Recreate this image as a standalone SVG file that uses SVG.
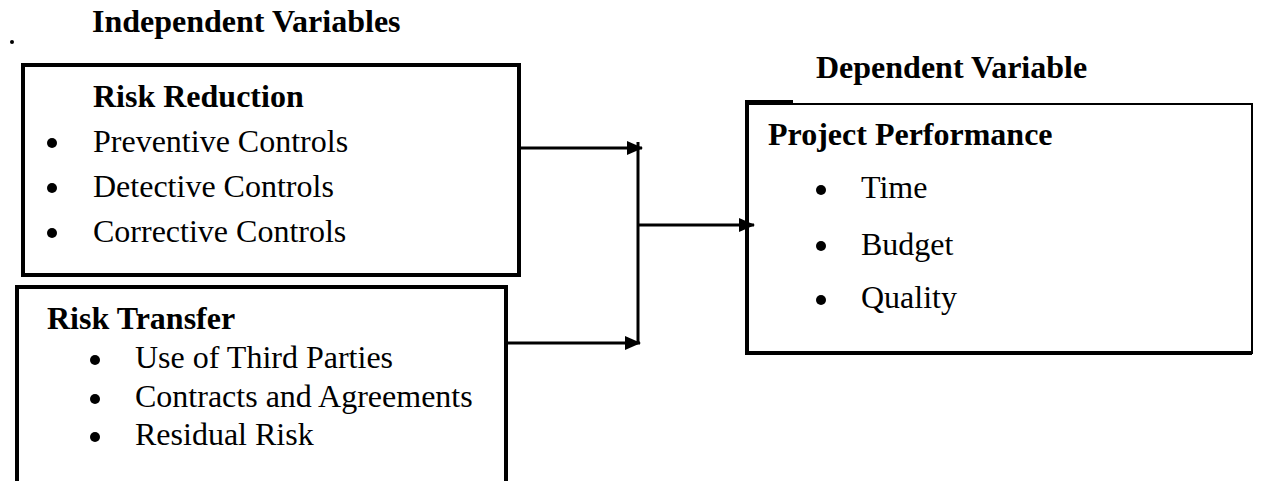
<svg xmlns="http://www.w3.org/2000/svg" width="1271" height="481" viewBox="0 0 1271 481">
<defs>
<style>
.t{font-family:"Liberation Serif","Times New Roman",serif;font-size:32px;fill:#000}
.b{font-weight:bold}
.box{fill:none;stroke:#000;stroke-width:4}
.c{fill:none;stroke:#000;stroke-width:3}
</style>
<marker id="ah" markerWidth="16" markerHeight="14" refX="15" refY="7" orient="auto" markerUnits="userSpaceOnUse" viewBox="0 0 16 14">
<path d="M0,0 L16,7 L0,14 z" fill="#000"/>
</marker>
</defs>
<rect width="1271" height="481" fill="#fff"/>
<g id="headings">
<circle cx="12" cy="42" r="2" fill="#000"/>
<text class="t b" x="92" y="32">Independent Variables</text>
<text class="t b" x="816" y="78">Dependent Variable</text>
</g>
<g id="risk-reduction">
<rect class="box" x="23" y="65" width="496" height="210"/>
<text class="t b" x="93" y="107">Risk Reduction</text>
<circle cx="52" cy="143" r="5"/>
<circle cx="52" cy="188" r="5"/>
<circle cx="52" cy="233" r="5"/>
<text class="t" x="93" y="152">Preventive Controls</text>
<text class="t" x="93" y="197">Detective Controls</text>
<text class="t" x="93" y="242">Corrective Controls</text>
</g>
<g id="risk-transfer">
<rect class="box" x="17" y="287" width="489" height="220"/>
<text class="t b" x="47" y="329">Risk Transfer</text>
<circle cx="95" cy="360" r="5"/>
<circle cx="95" cy="399" r="5"/>
<circle cx="95" cy="437" r="5"/>
<text class="t" x="135" y="368">Use of Third Parties</text>
<text class="t" x="135" y="407">Contracts and Agreements</text>
<text class="t" x="135" y="445">Residual Risk</text>
</g>
<g id="project-performance">
<rect x="747" y="104" width="505" height="249" fill="none" stroke="#000" stroke-width="2"/>
<path d="M747,102 V353 H1252" class="box"/>
<path d="M745,102 H793" class="box"/>
<text class="t b" x="768" y="145">Project Performance</text>
<circle cx="821" cy="190" r="5"/>
<circle cx="821" cy="246" r="5"/>
<circle cx="821" cy="300" r="5"/>
<text class="t" x="861" y="198">Time</text>
<text class="t" x="861" y="255">Budget</text>
<text class="t" x="861" y="308">Quality</text>
</g>
<g id="connectors">
<line class="c" x1="521" y1="148" x2="642" y2="148" marker-end="url(#ah)"/>
<line class="c" x1="508" y1="343" x2="640" y2="343" marker-end="url(#ah)"/>
<line class="c" x1="638" y1="142" x2="638" y2="343"/>
<line class="c" x1="638" y1="225" x2="754" y2="225" marker-end="url(#ah)"/>
</g>
</svg>
